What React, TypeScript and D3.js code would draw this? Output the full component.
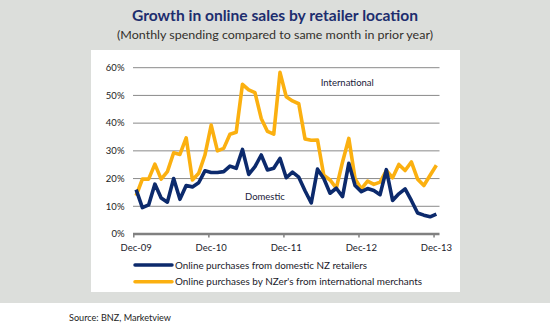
import React from "react";
import * as d3 from "d3";

const months: string[] = [
  "Dec-09",
  "Jan-10","Feb-10","Mar-10","Apr-10","May-10","Jun-10","Jul-10","Aug-10","Sep-10","Oct-10","Nov-10","Dec-10",
  "Jan-11","Feb-11","Mar-11","Apr-11","May-11","Jun-11","Jul-11","Aug-11","Sep-11","Oct-11","Nov-11","Dec-11",
  "Jan-12","Feb-12","Mar-12","Apr-12","May-12","Jun-12","Jul-12","Aug-12","Sep-12","Oct-12","Nov-12","Dec-12",
  "Jan-13","Feb-13","Mar-13","Apr-13","May-13","Jun-13","Jul-13","Aug-13","Sep-13","Oct-13","Nov-13","Dec-13",
];

const domestic: number[] = [
  16, 9.5, 10.5, 18, 13, 11.5, 20, 12.5, 17.5, 17, 18.5, 22.8,
  22.2, 22.2, 22.5, 24.5, 23.7, 30.5, 21.5, 24.3, 28.5, 23.1, 23.7, 27.3,
  20.3, 22.3, 20.5, 15.6, 11.2, 23.4, 20, 14.7, 16.5, 13.5, 25.5, 17.5,
  15.3, 16.4, 15.7, 14.2, 23.2, 12.1, 14.5, 16.3, 12.1, 7.6, 6.8, 6.2, 7.2,
];

const international: number[] = [
  13.8, 19.8, 19.8, 25.2, 19.8, 22.5, 29.3, 28.7, 34.7, 19.5, 21.9, 28.5,
  39.3, 30, 30.9, 36, 36.7, 54, 52, 51, 41.7, 37, 36, 58.3,
  49.5, 48, 47, 34.3, 33.8, 33.9, 21.2, 19.5, 16.5, 26, 34.5, 20,
  16.3, 19.1, 17.9, 18.7, 22.9, 20.3, 25.1, 22.9, 26, 19.8, 17.5, 21.2, 24.8,
];

const xTickLabels: string[] = ["Dec-09", "Dec-10", "Dec-11", "Dec-12", "Dec-13"];
const yTicks: number[] = [0, 10, 20, 30, 40, 50, 60];

const title = "Growth in online sales by retailer location";
const subtitle = "(Monthly spending compared to same month in prior year)";
const legendLabels: string[] = [
  "Online purchases from domestic NZ retailers",
  "Online purchases by NZer's from international merchants",
];
const source = "Source: BNZ, Marketview";

const NAVY = "#0c2a6c";
const ORANGE = "#fbb010";
const FONT = "Lato, 'Open Sans', sans-serif";

export default function App() {
  const x = d3.scaleBand<string>().domain(months).range([133, 439.5]).paddingInner(0).paddingOuter(0);
  const y = d3.scaleLinear().domain([0, 60]).range([234, 67.7]);
  const cx = (m: string) => (x(m) as number) + x.bandwidth() / 2;

  const line = d3
    .line<number>()
    .x((_, i) => cx(months[i]))
    .y((d) => y(d))
    .curve(d3.curveLinear);

  return (
    <svg
      width={550}
      height={328}
      style={{ position: "fixed", left: 0, top: 0, background: "#ffffff" }}
      fontFamily={FONT}
    >
      <rect x={0} y={0} width={550} height={303} fill="#dcdedb" />
      <rect x={91} y={50} width={369} height={242} fill="#ffffff" />

      <text x={275} y={21} textAnchor="middle" fontSize={14.5} fontWeight="bold" fill="#1d2d6e" textLength={286} lengthAdjust="spacingAndGlyphs">
        {title}
      </text>
      <text x={275} y={39} textAnchor="middle" fontSize={11.5} fill="#33302c" textLength={316} lengthAdjust="spacingAndGlyphs">
        {subtitle}
      </text>

      {yTicks.filter((t) => t > 0).map((t) => (
        <line key={"g" + t} x1={133} x2={439.5} y1={y(t)} y2={y(t)} stroke="#8a8a8a" strokeWidth={1} />
      ))}
      {yTicks.map((t) => (
        <text key={"y" + t} x={124.5} y={y(t) + 3.3} textAnchor="end" fontSize={9.5} fill="#222">
          {t + "%"}
        </text>
      ))}

      <line x1={133} x2={439.5} y1={y(0)} y2={y(0)} stroke="#808080" strokeWidth={2.5} />
      {xTickLabels.map((m) => (
        <line key={"t" + m} x1={(x(m) as number) + 0.8} x2={(x(m) as number) + 0.8} y1={y(0)} y2={y(0) + 3.5} stroke="#808080" strokeWidth={1.5} />
      ))}
      {xTickLabels.map((m) => (
        <text key={"l" + m} x={cx(m)} y={251} textAnchor="middle" fontSize={9.5} fill="#1a1a2a">
          {m}
        </text>
      ))}

      <path d={line(international) || ""} fill="none" stroke={ORANGE} strokeWidth={3.6} strokeLinejoin="round" />
      <path d={line(domestic) || ""} fill="none" stroke={NAVY} strokeWidth={3.6} strokeLinejoin="round" />

      <text x={320.7} y={86} fontSize={9.5} fill="#1a1a3a">International</text>
      <text x={245} y={200} fontSize={9.5} fill="#1a1a3a">Domestic</text>

      <line x1={135} x2={172} y1={265} y2={265} stroke={NAVY} strokeWidth={3.5} strokeLinecap="round" />
      <text x={175} y={268.5} fontSize={9.5} fill="#1a1a2a" textLength={192} lengthAdjust="spacingAndGlyphs">{legendLabels[0]}</text>
      <line x1={135} x2={172} y1={281.7} y2={281.7} stroke={ORANGE} strokeWidth={3.5} strokeLinecap="round" />
      <text x={175} y={285.2} fontSize={9.5} fill="#1a1a2a" textLength={247} lengthAdjust="spacingAndGlyphs">{legendLabels[1]}</text>

      <text x={69} y={321} fontSize={8.5} fill="#222" textLength={102} lengthAdjust="spacingAndGlyphs">{source}</text>
    </svg>
  );
}
